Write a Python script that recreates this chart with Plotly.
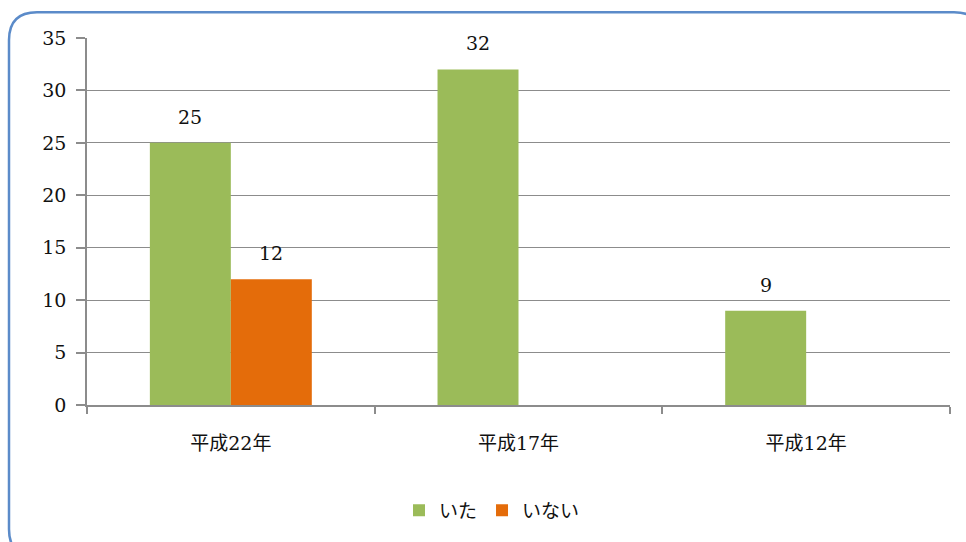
import plotly.graph_objects as go

# Survey counts by year
categories = ["平成22年", "平成17年", "平成12年"]
series_names = ["いた", "いない"]
ita_values = [25, 32, 9]
inai_values = [12, None, None]
y_ticks = [0, 5, 10, 15, 20, 25, 30, 35]

GREEN = "#9BBB59"
ORANGE = "#E46C0A"
NUM_FONT = "DejaVu Serif, Noto Sans CJK JP"
TEXT_COL = "#111111"
GRID_COL = "#8c8c8c"

W, H = 966, 542
ML, MR, MT, MB = 87, 16, 38, 135
PW, PH = W - ML - MR, H - MT - MB
BARGAP = 0.437


def px_x(x):
    return (x - ML) / PW


def px_y(y):
    return (H - MB - y) / PH


fig = go.Figure()
for name, vals, col in [(series_names[0], ita_values, GREEN),
                        (series_names[1], inai_values, ORANGE)]:
    fig.add_trace(go.Bar(x=categories, y=vals, name=name,
                         marker=dict(color=col, line=dict(width=0))))

# value labels above each bar
bar_w = (1 - BARGAP) / 2
for k, vals in enumerate([ita_values, inai_values]):
    off = (k - 0.5) * bar_w
    for i, v in enumerate(vals):
        if v is None:
            continue
        fig.add_annotation(x=i + off, y=v, text=str(v), showarrow=False,
                           yanchor="bottom", yshift=13,
                           font=dict(family=NUM_FONT, size=19, color=TEXT_COL))

# rounded outer frame (right and bottom edges run past the page)
x0, y0, x1, y1, r = 9, 12, 982, 560, 28
path = (f"M {px_x(x0)},{px_y(y0 + r)} "
        f"Q {px_x(x0)},{px_y(y0)} {px_x(x0 + r)},{px_y(y0)} "
        f"L {px_x(x1 - r)},{px_y(y0)} "
        f"Q {px_x(x1)},{px_y(y0)} {px_x(x1)},{px_y(y0 + r)} "
        f"L {px_x(x1)},{px_y(y1 - r)} "
        f"Q {px_x(x1)},{px_y(y1)} {px_x(x1 - r)},{px_y(y1)} "
        f"L {px_x(x0 + r)},{px_y(y1)} "
        f"Q {px_x(x0)},{px_y(y1)} {px_x(x0)},{px_y(y1 - r)} Z")
fig.add_shape(type="path", path=path, xref="paper", yref="paper",
              line=dict(color="#5B8BC9", width=2.5), layer="above")

fig.update_layout(
    width=W, height=H,
    margin=dict(l=ML, r=MR, t=MT, b=MB),
    paper_bgcolor="white", plot_bgcolor="white",
    barmode="group", bargap=BARGAP, bargroupgap=0,
    font=dict(family=NUM_FONT, size=19, color=TEXT_COL),
    legend=dict(orientation="h", x=px_x(492), xanchor="center",
                y=px_y(513), yanchor="middle",
                font=dict(family=NUM_FONT, size=19, color=TEXT_COL),
                itemwidth=30, traceorder="normal"),
    xaxis=dict(type="category", showline=True, linecolor=GRID_COL,
               linewidth=1.5, ticks="outside", tickson="boundaries",
               ticklen=7, tickcolor=GRID_COL, tickwidth=1.5,
               ticklabelstandoff=20, showgrid=False,
               tickfont=dict(family=NUM_FONT, size=19, color=TEXT_COL)),
    yaxis=dict(range=[0, 35], tickvals=y_ticks, showline=True,
               linecolor=GRID_COL, linewidth=1.5, ticks="outside",
               ticklen=9, tickcolor=GRID_COL, tickwidth=1.5,
               showgrid=True, gridcolor=GRID_COL, gridwidth=1.3,
               zeroline=False, ticklabelstandoff=6,
               tickfont=dict(family=NUM_FONT, size=19, color=TEXT_COL)),
)

fig.write_html("out.html")
